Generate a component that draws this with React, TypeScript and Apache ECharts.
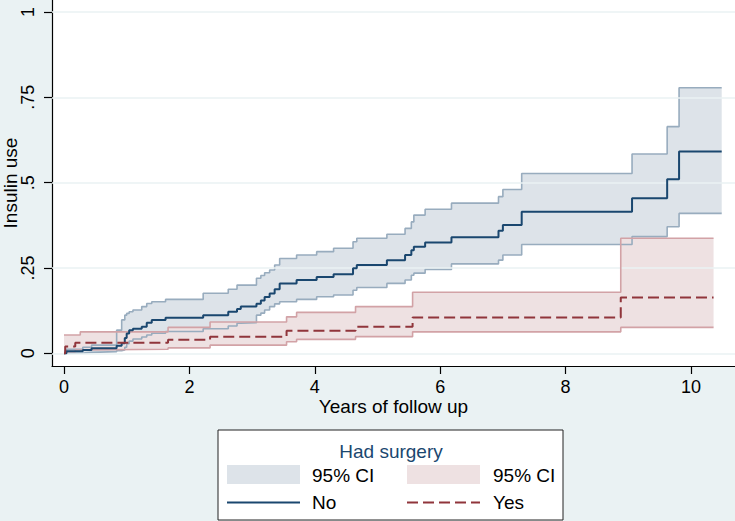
import React, { useEffect, useRef } from "react";
import * as echarts from "echarts";

// ---- Data ----
const noT = [0, 0.04, 0.30, 0.44, 0.84, 0.92, 0.97, 1.00, 1.04, 1.10, 1.24, 1.32, 1.40, 1.62, 2.22, 2.62, 2.76, 2.82, 3.07, 3.14, 3.20, 3.28, 3.36, 3.44, 3.71, 4.03, 4.30, 4.61, 4.67, 5.15, 5.44, 5.54, 5.58, 5.76, 6.18, 6.93, 7.00, 7.30, 9.06, 9.62, 9.81, 10.49];
const noMid = [0, 0.006, 0.010, 0.015, 0.022, 0.030, 0.045, 0.058, 0.068, 0.072, 0.078, 0.090, 0.098, 0.104, 0.112, 0.122, 0.130, 0.137, 0.145, 0.155, 0.165, 0.175, 0.188, 0.205, 0.215, 0.224, 0.232, 0.249, 0.259, 0.273, 0.288, 0.302, 0.312, 0.325, 0.340, 0.359, 0.376, 0.415, 0.454, 0.510, 0.591, 0.591];
const noLo = [0, 0.001, 0.003, 0.005, 0.008, 0.010, 0.018, 0.028, 0.036, 0.042, 0.048, 0.054, 0.059, 0.064, 0.072, 0.080, 0.088, 0.090, 0.112, 0.118, 0.127, 0.137, 0.145, 0.151, 0.158, 0.166, 0.171, 0.185, 0.193, 0.205, 0.215, 0.229, 0.235, 0.246, 0.262, 0.273, 0.288, 0.319, 0.342, 0.371, 0.410, 0.410];
const noHi = [0.006, 0.012, 0.018, 0.024, 0.068, 0.098, 0.112, 0.117, 0.122, 0.127, 0.137, 0.146, 0.151, 0.158, 0.176, 0.188, 0.200, 0.200, 0.220, 0.228, 0.236, 0.244, 0.259, 0.278, 0.288, 0.298, 0.308, 0.327, 0.337, 0.349, 0.366, 0.385, 0.405, 0.422, 0.440, 0.459, 0.480, 0.527, 0.584, 0.664, 0.778, 0.778];

const yesT = [0, 0.02, 0.18, 0.26, 1.66, 2.33, 3.55, 3.71, 4.65, 5.56, 8.88, 10.36];
const yesMid = [0, 0.020, 0.031, 0.031, 0.040, 0.049, 0.066, 0.066, 0.078, 0.105, 0.164, 0.164];
const yesLo = [0, 0.005, 0.010, 0.012, 0.016, 0.024, 0.034, 0.041, 0.049, 0.063, 0.076, 0.076];
const yesHi = [0.054, 0.054, 0.054, 0.063, 0.076, 0.092, 0.107, 0.120, 0.137, 0.179, 0.337, 0.337];

const xTicks = [0, 2, 4, 6, 8, 10];
const yTicks = [0, 0.25, 0.5, 0.75, 1];

const legendTitle = "Had surgery";
const legendCI = "95% CI";
const legendNo = "No";
const legendYes = "Yes";
const xName = "Years of follow up";
const yName = "Insulin use";

// ---- Styles ----
const FONT = "'Liberation Sans', Arial, sans-serif";
const BG = "#eaf2f3";
const NAVY = "#1a476f";
const NAVY_FILL = "#dde3e9";
const NAVY_EDGE = "#98acbe";
const RED = "#90353b";
const RED_FILL = "#eee1e2";
const RED_EDGE = "#d2a2a6";

function bandSeries(t: number[], lo: number[], hi: number[], fill: string, z: number) {
  const data = t.map((v, i) => [v, lo[i], hi[i]]);
  return {
    type: "custom",
    z,
    silent: true,
    encode: { x: 0, y: [1, 2] },
    data,
    renderItem: (params: any, api: any) => {
      if (params.dataIndex !== 0) return null;
      const n = t.length;
      const pts: number[][] = [];
      for (let i = 0; i < n; i++) {
        pts.push(api.coord([t[i], hi[i]]));
        if (i < n - 1) pts.push(api.coord([t[i + 1], hi[i]]));
      }
      for (let i = n - 1; i >= 0; i--) {
        if (i < n - 1) pts.push(api.coord([t[i + 1], lo[i]]));
        pts.push(api.coord([t[i], lo[i]]));
      }
      return { type: "polygon", shape: { points: pts }, style: { fill, stroke: "none" } };
    },
  };
}

function stepLine(t: number[], v: number[], color: string, width: number, z: number, dash?: any) {
  return {
    type: "line",
    step: "end",
    z,
    silent: true,
    showSymbol: false,
    symbol: "none",
    data: t.map((x, i) => [x, v[i]]),
    lineStyle: { color, width, type: dash || "solid" },
  };
}

export default function App() {
  const ref = useRef<HTMLDivElement>(null);
  useEffect(() => {
    if (!ref.current) return;
    const chart = echarts.init(ref.current, undefined, { renderer: "svg" });
    const gridLines = {
      type: "line",
      z: 1,
      silent: true,
      data: [],
      markLine: {
        silent: true,
        symbol: "none",
        animation: false,
        label: { show: false },
        lineStyle: { color: BG, width: 1.5, type: "solid" },
        data: yTicks.map((y) => ({ yAxis: y })),
      },
    };
    chart.setOption({
      animation: false,
      backgroundColor: BG,
      textStyle: { fontFamily: FONT },
      grid: {
        left: 52,
        top: 0,
        width: 683,
        height: 366,
        show: true,
        backgroundColor: "#ffffff",
        borderWidth: 0,
        containLabel: false,
        outerBoundsMode: "none",
      },
      xAxis: {
        type: "value",
        min: -0.191,
        max: 10.702,
        name: xName,
        nameLocation: "middle",
        nameGap: 31,
        nameMoveOverlap: false,
        nameTextStyle: { fontSize: 19, color: "#000", fontFamily: FONT },
        axisLine: { show: true, onZero: false, lineStyle: { color: "#000", width: 1.2 } },
        axisTick: { show: true, length: 8, customValues: xTicks, lineStyle: { color: "#000", width: 1.2 } },
        axisLabel: { customValues: xTicks, fontSize: 18, color: "#000", margin: 12, fontFamily: FONT },
        splitLine: { show: false },
      },
      yAxis: {
        type: "value",
        min: -0.037,
        max: 1.035,
        name: yName,
        nameLocation: "middle",
        nameGap: 32,
        nameMoveOverlap: false,
        nameTextStyle: { fontSize: 19, color: "#000", fontFamily: FONT },
        axisLine: { show: true, onZero: false, lineStyle: { color: "#000", width: 1.2 } },
        axisTick: { show: true, length: 8, customValues: yTicks, lineStyle: { color: "#000", width: 1.2 } },
        axisLabel: {
          customValues: yTicks,
          rotate: 90,
          fontSize: 18,
          color: "#000",
          margin: 15,
          fontFamily: FONT,
          formatter: (v: number) => (v === 0 ? "0" : v === 1 ? "1" : String(v).replace(/^0\./, ".")),
        },
        splitLine: { show: false },
      },
      series: [
        gridLines,
        bandSeries(noT, noLo, noHi, NAVY_FILL, 2),
        bandSeries(yesT, yesLo, yesHi, RED_FILL, 3),
        stepLine(noT, noLo, NAVY_EDGE, 1.6, 4),
        stepLine(noT, noHi, NAVY_EDGE, 1.6, 4),
        stepLine(yesT, yesLo, RED_EDGE, 1.6, 5),
        stepLine(yesT, yesHi, RED_EDGE, 1.6, 5),
        stepLine(noT, noMid, NAVY, 2, 6),
        stepLine(yesT, yesMid, RED, 2, 6, [11, 5]),
      ],
      graphic: [
        {
          type: "rect",
          shape: { x: 218, y: 430, width: 345, height: 90 },
          style: { fill: "#ffffff", stroke: "#222", lineWidth: 1 },
          silent: true,
        },
        {
          type: "text",
          x: 391,
          y: 451,
          style: { text: legendTitle, fill: NAVY, font: `19px ${FONT}`, align: "center", verticalAlign: "middle" },
        },
        { type: "rect", shape: { x: 227, y: 465, width: 73, height: 19 }, style: { fill: NAVY_FILL } },
        {
          type: "text",
          x: 312,
          y: 475,
          style: { text: legendCI, fill: "#000", font: `19px ${FONT}`, align: "left", verticalAlign: "middle" },
        },
        { type: "rect", shape: { x: 407, y: 465, width: 73, height: 19 }, style: { fill: RED_FILL } },
        {
          type: "text",
          x: 493,
          y: 475,
          style: { text: legendCI, fill: "#000", font: `19px ${FONT}`, align: "left", verticalAlign: "middle" },
        },
        {
          type: "line",
          shape: { x1: 227, y1: 502.5, x2: 300, y2: 502.5 },
          style: { stroke: NAVY, lineWidth: 2 },
        },
        {
          type: "text",
          x: 312,
          y: 502,
          style: { text: legendNo, fill: "#000", font: `19px ${FONT}`, align: "left", verticalAlign: "middle" },
        },
        {
          type: "line",
          shape: { x1: 407, y1: 502.5, x2: 480, y2: 502.5 },
          style: { stroke: RED, lineWidth: 2, lineDash: [11, 5] },
        },
        {
          type: "text",
          x: 493,
          y: 502,
          style: { text: legendYes, fill: "#000", font: `19px ${FONT}`, align: "left", verticalAlign: "middle" },
        },
      ],
    });
    return () => chart.dispose();
  }, []);
  return (
    <div
      ref={ref}
      style={{ position: "absolute", left: 0, top: 0, width: 735, height: 521 }}
    />
  );
}
